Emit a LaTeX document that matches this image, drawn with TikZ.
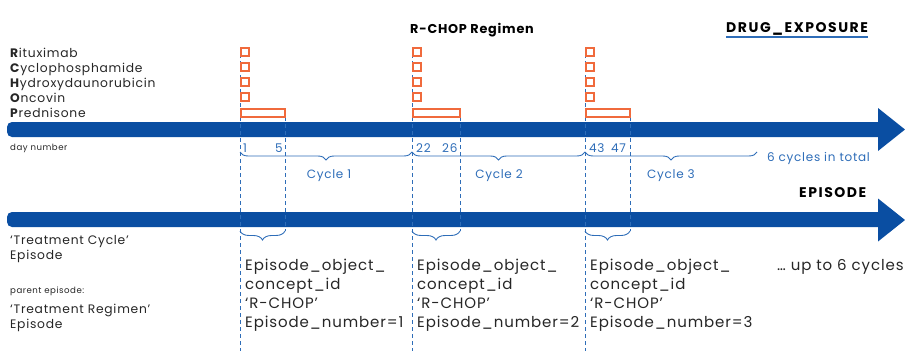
\documentclass[tikz,border=0pt]{standalone}
\usepackage{fontspec}
\setmainfont{Poppins}[LetterSpace=6]
\newfontfamily\hdrfont{Poppins}[LetterSpace=11]
\usetikzlibrary{decorations.pathreplacing}
\definecolor{arrowblue}{HTML}{0A4EA2}
\definecolor{lineblue}{HTML}{2E6DB8}
\definecolor{drugorange}{HTML}{F06A3C}
\definecolor{txtgray}{HTML}{262626}
\tikzset{
  lbl/.style={text=txtgray, anchor=base west, inner sep=0pt, font=\fontsize{12.3}{14}\selectfont},
  small/.style={text=txtgray, anchor=base west, inner sep=0pt, font=\fontsize{8.6}{10}\selectfont},
  hdr/.style={text=black, anchor=base west, inner sep=0pt, font=\bfseries\fontsize{12.8}{15}\selectfont},
  caphdr/.style={text=black, anchor=base west, inner sep=0pt, font=\hdrfont\bfseries\fontsize{14}{16}\selectfont},
  daynum/.style={text=lineblue, anchor=base west, inner sep=0pt, font=\fontsize{12}{14}\selectfont},
  cyc/.style={text=lineblue, anchor=base, inner sep=0pt, font=\fontsize{12}{14}\selectfont},
  epi/.style={text=txtgray, anchor=base west, inner sep=0pt, font=\fontsize{15}{18}\selectfont},
  dashv/.style={lineblue, line width=0.9pt, dash pattern=on 4pt off 3pt},
  obox/.style={draw=drugorange, line width=1.8pt},
  brc/.style={lineblue, line width=0.9pt, decorate, decoration={brace, amplitude=#1}},
  bigarrow/.style={fill=arrowblue},
}
\begin{document}
\begin{tikzpicture}[x=1pt, y=-1pt]
\useasboundingbox (0,0) rectangle (905,351);
% arrows
\fill[bigarrow] (878,137) -- (878,151) -- (905,129.5) -- (878,108) -- (878,122)
  [rounded corners=5pt] -- (7,122) -- (7,137) [sharp corners] -- cycle;
\fill[bigarrow] (878,227) -- (878,241.5) -- (905,220) -- (878,198.5) -- (878,212)
  [rounded corners=5pt] -- (7,212) -- (7,227) [sharp corners] -- cycle;

% coordinates for the cycles
\foreach \n/\a/\b in {1/240/285, 2/412/460, 3/585/630} {
  \coordinate (s\n top) at (\a,47);
  \coordinate (s\n bot) at (\a,351);
  \coordinate (e\n top) at (\b,117);
  \coordinate (e\n bot) at (\b,231);
}
\foreach \n in {1,2,3} {
  \draw[dashv] (s\n top) -- (s\n bot);
  \draw[dashv] (e\n top) -- (e\n bot);
}

% drug boxes
\foreach \n/\a/\b in {1/240/285, 2/412/460, 3/585/630} {
  \foreach \yy in {48,63,78,93} {
    \draw[obox] (\a+0.9,\yy) rectangle (\a+9,\yy+8);
  }
  \draw[obox] (\a+0.9,109) rectangle (\b,117);
}

% drug names
\node[lbl] (rit) at (10,57) {\textbf{R}ituximab};
\node[lbl] (cyc) at (10,72) {\textbf{C}yclophosphamide};
\node[lbl] (hyd) at (10,87) {\textbf{H}ydroxydaunorubicin};
\node[lbl] (onc) at (10,102) {\textbf{O}ncovin};
\node[lbl] (pre) at (10,117) {\textbf{P}rednisone};

% headers
\node[hdr] (reg) at (410,33) {R-CHOP Regimen};
\node[caphdr] (drug) at (726,32) {DRUG\_EXPOSURE};
\draw[lineblue, line width=1.6pt] (drug.south west |- 0,37) coordinate (ul1) -- (drug.east |- 0,37) coordinate (ul2);
\node[caphdr] (epis) at (799,197) {EPISODE};

% day numbers
\node[small] (dn) at (10,150) {day number};
\node[daynum] (d1) at (243,152) {1};
\node[daynum] (d5) at (275,152) {5};
\node[daynum] (d22) at (416,152) {22};
\node[daynum] (d26) at (442,152) {26};
\node[daynum] (d43) at (589,152) {43};
\node[daynum] (d47) at (611,152) {47};

% cycle braces
\coordinate (c3end) at (757,152);
\draw[brc=8pt] (s2top |- 0,152) -- (s1top |- 0,152);
\draw[brc=8pt] (s3top |- 0,152) -- (s2top |- 0,152);
\draw[brc=8pt] (c3end) -- (s3top |- 0,152);
\node[cyc] (cy1) at (329,178) {Cycle 1};
\node[cyc] (cy2) at (499,178) {Cycle 2};
\node[cyc] (cy3) at (671,178) {Cycle 3};
\node[daynum] (tot) at (767,161) {6 cycles in total};

% episode braces
\foreach \n in {1,2,3} {
  \draw[brc=9pt] (e\n bot) -- (s\n top |- e\n bot);
}

% left labels
\node[lbl] (tc1) at (10,244) {‘Treatment Cycle’};
\node[lbl] (tc2) at (10,259) {Episode};
\node[small] (pe) at (10,293) {parent episode:};
\node[lbl] (tr1) at (10,313) {‘Treatment Regimen’};
\node[lbl] (tr2) at (10,328) {Episode};

% episode blocks
\foreach \n/\x in {1/245, 2/417, 3/590} {
  \node[epi] (ep\n a) at (\x,270) {Episode\_object\_};
  \node[epi] (ep\n b) at (\x,289) {concept\_id};
  \node[epi] (ep\n c) at (\x,308) {‘R-CHOP’};
  \node[epi] (ep\n d) at (\x,327) {Episode\_number=\n};
}
\node[epi] (upto) at (777,270) {… up to 6 cycles};
\end{tikzpicture}
\end{document}
